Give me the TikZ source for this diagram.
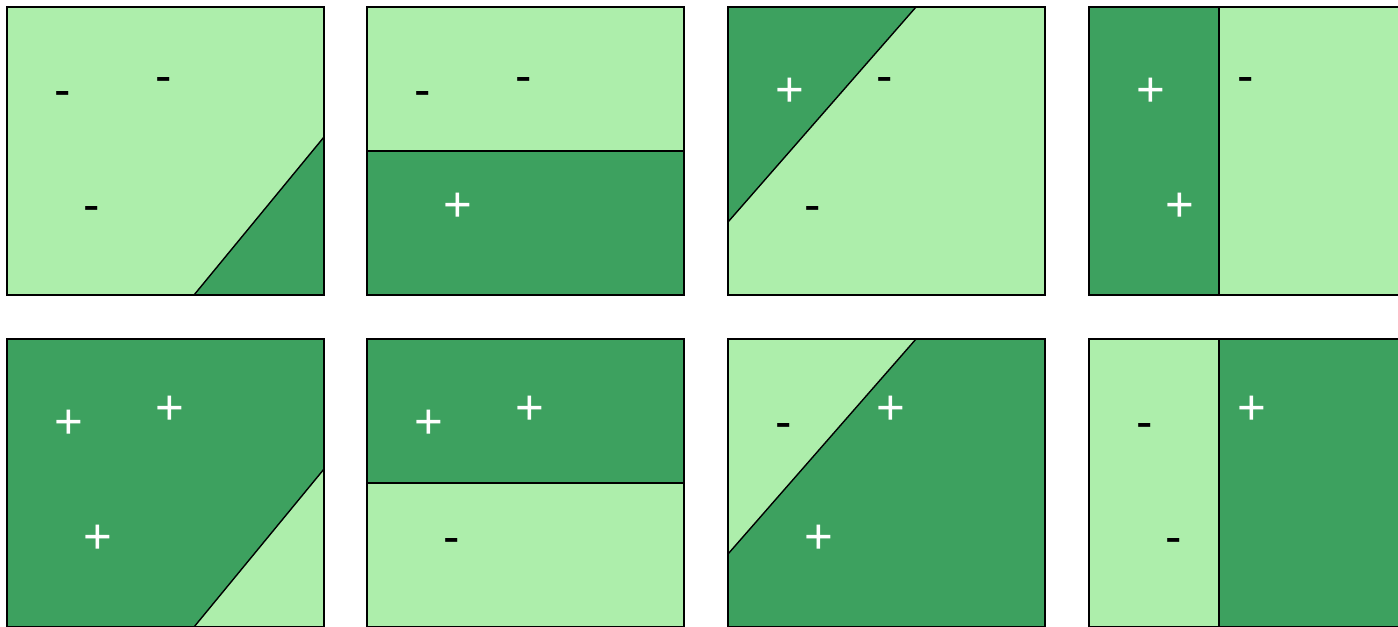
\documentclass[tikz,border=0pt]{standalone}
\usepackage{fontspec}
\newfontfamily\signfont{Liberation Sans}
\definecolor{regionlight}{RGB}{173,238,171}
\definecolor{regiondark}{RGB}{61,161,95}
\tikzset{
  frame/.style={line width=1pt},
  cut/.style={line width=0.8pt},
  sign/.style={font={\signfont\fontsize{28}{30}\selectfont}, anchor=west, inner sep=0pt, text height=18pt, text depth=0pt},
  signplus/.style={sign, text=white, node contents={+}},
  signminus/.style={sign, text=black, node contents={-}}
}
\def\Wpanel{317}
\def\Hpanel{288}
\newcommand{\Panel}[9]{%
  % #1 name, #2 x-shift, #3 y-shift, #4 background, #5 region colour, #6 region path, #7-#9 sign styles
  \begin{scope}[shift={(#2,#3)}]
    % Background and region
    \fill[#4] (0,0) rectangle (\Wpanel,\Hpanel);
    \filldraw[cut, fill=#5] #6;
    % Frame
    \draw[frame] (0,0) rectangle (\Wpanel,\Hpanel);
    % Signs
    \node (#1-1) at (47,84) [#7];
    \node (#1-2) at (148,70) [#8];
    \node (#1-3) at (76,199) [#9];
  \end{scope}
}

\begin{document}
\begin{tikzpicture}[x=0.02cm, y=-0.02cm]
  \useasboundingbox (0,0) rectangle (1398,626);

  % top row
  \Panel{a}{7}{7}{regionlight}{regiondark}{(187,288) -- (317,288) -- (317,130) -- cycle}{signminus}{signminus}{signminus}
  \Panel{b}{367}{7}{regionlight}{regiondark}{(0,144) rectangle (317,288)}{signminus}{signminus}{signplus}
  \Panel{c}{728}{7}{regionlight}{regiondark}{(0,0) -- (188,0) -- (0,215) -- cycle}{signplus}{signminus}{signminus}
  \Panel{d}{1089}{7}{regionlight}{regiondark}{(0,0) rectangle (130,288)}{signplus}{signminus}{signplus}

  % bottom row
  \Panel{e}{7}{339}{regiondark}{regionlight}{(187,288) -- (317,288) -- (317,130) -- cycle}{signplus}{signplus}{signplus}
  \Panel{f}{367}{339}{regionlight}{regiondark}{(0,0) rectangle (317,144)}{signplus}{signplus}{signminus}
  \Panel{g}{728}{339}{regiondark}{regionlight}{(0,0) -- (188,0) -- (0,215) -- cycle}{signminus}{signplus}{signplus}
  \Panel{h}{1089}{339}{regiondark}{regionlight}{(0,0) rectangle (130,288)}{signminus}{signplus}{signminus}
\end{tikzpicture}
\end{document}
